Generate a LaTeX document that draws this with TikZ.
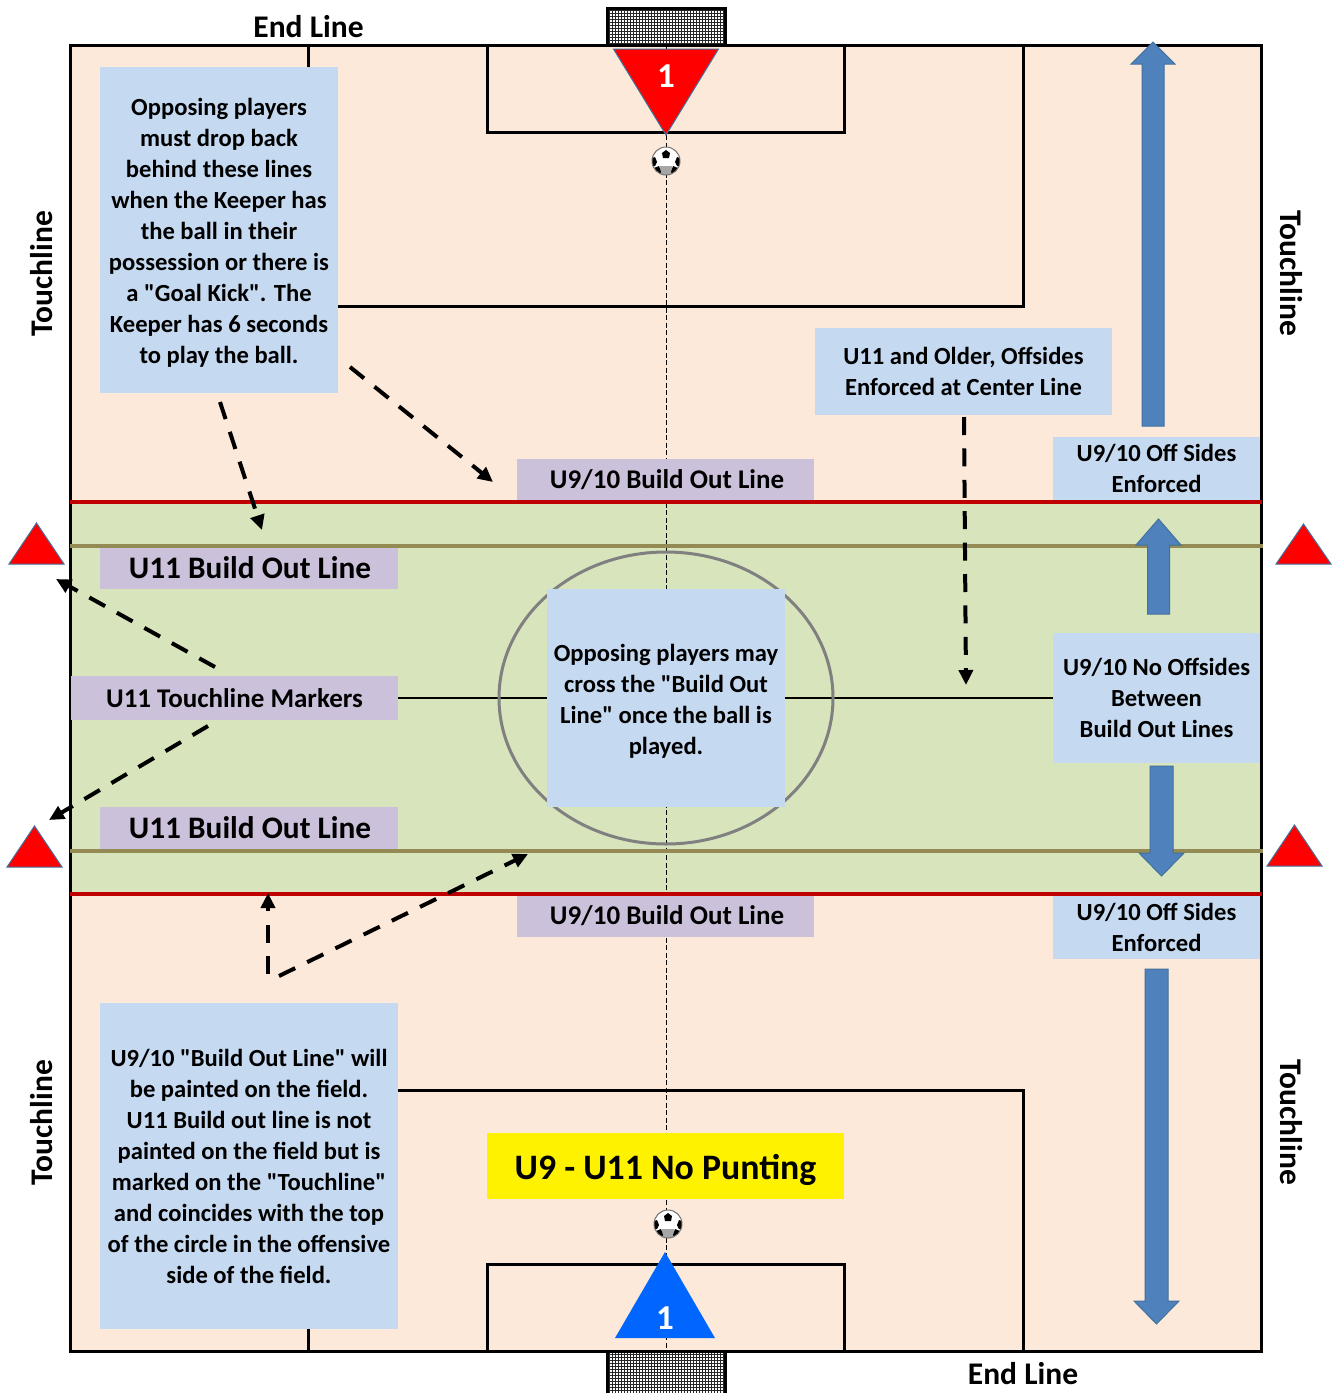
\documentclass[tikz,border=0pt]{standalone}
\usepackage{fontspec}
\newfontfamily\notefont{Carlito}
\usetikzlibrary{arrows.meta}
\definecolor{peach}{HTML}{FDE9D9}
\definecolor{band}{HTML}{D8E4BC}
\definecolor{bluebox}{HTML}{C5D9F1}
\definecolor{lilac}{HTML}{CCC1DA}
\definecolor{olive}{HTML}{948A54}
\definecolor{darkred}{HTML}{C00000}
\definecolor{arrowblue}{HTML}{4F81BD}
\definecolor{arrowedge}{HTML}{41719C}
\definecolor{keeper}{HTML}{0066FF}
\tikzset{
  x=1pt,y=-1pt,
  base/.style={inner sep=0pt,outer sep=0pt,align=center,font=\notefont\bfseries\fontsize{24.6}{31}\selectfont,text=black},
  bluenote/.style={base,fill=bluebox},
  lilacnote/.style={base,fill=lilac,font=\notefont\bfseries\fontsize{27}{31}\selectfont},
  biglabel/.style={base,fill=lilac,font=\notefont\bfseries\fontsize{31.3}{36}\selectfont},
  sidelabel/.style={base,font=\notefont\bfseries\fontsize{31.5}{36}\selectfont},
  keeperlabel/.style={base,text=white,font=\notefont\bfseries\fontsize{35}{36}\selectfont},
  fieldline/.style={draw=black,line width=3pt},
  callout/.style={draw=black,line width=4pt,dash pattern=on 18pt off 13.4pt,-{Triangle[length=15pt,width=14pt]}},
  blockarrow/.style={fill=arrowblue,draw=arrowedge,line width=1pt,line join=miter},
  marker/.style={fill=red,draw=arrowedge,line width=1pt},
}
\newcommand{\soccerball}[2]{%
  \begin{scope}[shift={(#1,#2)}]
    \fill[white] (0,0) circle (14);
    \begin{scope}
      \clip (0,0) circle (14);
      \fill[black!35] (-6,5) -- (6,5) -- (7,14) -- (-7,14) -- cycle;
      \fill[black] (-4,-8) -- (0,-11) -- (4,-8) -- (3,-3) -- (-3,-3) -- cycle;
      \fill[black] (-14,-3) -- (-11,-4) -- (-9,1) -- (-11,5) -- (-14,5) -- cycle;
      \fill[black] (14,-3) -- (11,-4) -- (9,1) -- (11,5) -- (14,5) -- cycle;
      \fill[black] (-12,7) -- (-7,5) -- (-5,11) -- (-7,14) -- (-12,13) -- cycle;
      \fill[black] (12,7) -- (7,5) -- (5,11) -- (7,14) -- (12,13) -- cycle;
    \end{scope}
    \draw[black!55,line width=1pt] (0,0) circle (14);
  \end{scope}}
\newcommand{\goalnet}[4]{% top, bottom, first y, second y
  \fill[white] (606,#1) rectangle (726,#2);
  \foreach \gx in {609,612,...,725} \draw[black!85,line width=0.8pt] (\gx,#1) -- (\gx,#2);
  \foreach \gy in {#3,#4,...,#2} \draw[black!85,line width=0.8pt] (606,\gy) -- (726,\gy);}
\begin{document}
\begin{tikzpicture}
\useasboundingbox (0,0) rectangle (1333,1393);
% field
\fill[peach] (70.5,45) rectangle (1261.5,1351);
\fill[band] (70.5,501) rectangle (1261.5,893);
% goals
\goalnet{8}{45}{10}{13}
\draw[black,line width=3pt] (607,45) -- (607,8) -- (725,8) -- (725,45);
\goalnet{1351}{1393}{1354}{1357}
\draw[black,line width=3pt] (607,1351) -- (607,1393);
\draw[black,line width=3pt] (725,1351) -- (725,1393);
% field markings
\draw[fieldline] (70.5,45) rectangle (1261.5,1351.5);
\draw[fieldline] (308.5,45) -- (308.5,306) -- (1023.5,306) -- (1023.5,45);
\draw[fieldline] (487,45) -- (487,132) -- (844.5,132) -- (844.5,45);
\draw[fieldline] (308.5,1351) -- (308.5,1090.5) -- (1023.5,1090.5) -- (1023.5,1351);
\draw[fieldline] (487,1351) -- (487,1264.5) -- (844.5,1264.5) -- (844.5,1351);
\draw[draw=black,line width=2.5pt] (70,698) -- (1261,698);
\draw[black,line width=1pt,dash pattern=on 5pt off 2.5pt] (666.5,45) -- (666.5,1351);
\draw[draw=black!50,line width=3pt] (666,698) ellipse [x radius=167,y radius=146];
% notes
\node[bluenote,minimum width=238pt,minimum height=326pt] (keepernote) at (219,230)
  {\rule{0pt}{22pt}Opposing players\\must drop back\\behind these lines\\when the Keeper has\\the ball in their\\possession or there is\\a "Goal Kick".  The\\Keeper has 6 seconds\\to play the ball.};
\node[lilacnote,minimum width=297pt,minimum height=41pt] (buildtop) at (665.5,479.5) {\hspace*{3pt}U9/10 Build Out Line};
\node[lilacnote,minimum width=297pt,minimum height=42pt] (buildbot) at (665.5,916) {\hspace*{3pt}U9/10 Build Out Line};
\node[bluenote,minimum width=297pt,minimum height=87pt] (oldernote) at (963.5,371.5) {U11 and Older, Offsides\\Enforced at Center Line};
\node[bluenote,minimum width=207pt,minimum height=63pt] (offtop) at (1156.5,468.5) {U9/10 Off Sides\\Enforced};
\node[bluenote,minimum width=207pt,minimum height=64pt] (offbot) at (1156.5,927) {U9/10 Off Sides\\Enforced};
\node[biglabel,minimum width=298pt,minimum height=42pt] (u11top) at (249,568) {\hspace*{2pt}U11 Build Out Line};
\node[biglabel,minimum width=298pt,minimum height=42pt] (u11bot) at (249,828) {\hspace*{2pt}U11 Build Out Line};
\node[lilacnote,minimum width=327pt,minimum height=44pt] (touchmark) at (234.5,698) {U11 Touchline Markers};
\node[bluenote,minimum width=238pt,minimum height=218pt] (centernote) at (666,698) {\rule{0pt}{24pt}Opposing players may\\cross the "Build Out\\Line" once the ball is\\played.};
\node[bluenote,minimum width=207pt,minimum height=130pt] (noffnote) at (1156.5,698) {U9/10 No Offsides\\Between\\Build Out Lines};
\node[bluenote,minimum width=298pt,minimum height=326pt] (paintnote) at (249,1166) {U9/10 "Build Out Line" will\\be painted on the field.\\U11 Build out line is not\\painted on the field but is\\marked on the "Touchline"\\and coincides with the top\\of the circle in the offensive\\side of the field.};
\node[base,fill=yellow,minimum width=357pt,minimum height=66pt,font=\notefont\bfseries\fontsize{35.8}{40}\selectfont] (nopunt) at (665.5,1166) {\rule{0pt}{34pt}U9 - U11 No Punting};
% build-out lines
\draw[darkred,line width=4pt] (70,501.5) -- (1262,501.5);
\draw[darkred,line width=4pt] (70,893.5) -- (1262,893.5);
\draw[olive,line width=4pt] (70,546) -- (1263,546);
\draw[olive,line width=4pt] (70,851) -- (1263,851);
% keepers
\draw[fill=red,draw=arrowedge,line width=1pt] (613.5,49) -- (718.5,49) -- (666,135) -- cycle;
\node[keeperlabel] (keepertop) at (666,76) {1};
\fill[keeper] (615,1338) -- (715,1338) -- (665,1252) -- cycle;
\node[keeperlabel] (keeperbot) at (665,1318) {1};
\soccerball{666}{161}
\soccerball{668}{1224}
% touchline markers
\path[marker] (9,564) -- (64,564) -- (36.5,523) -- cycle;
\path[marker] (1276,564) -- (1331,564) -- (1303.5,524) -- cycle;
\path[marker] (7,867) -- (62,867) -- (34.5,826) -- cycle;
\path[marker] (1267,866) -- (1322,866) -- (1294.5,825) -- cycle;
% block arrows
\path[blockarrow] (1142,426) -- (1142,64) -- (1131,64) -- (1153,42) -- (1175,64) -- (1164,64) -- (1164,426) -- cycle;
\path[blockarrow] (1147.5,614) -- (1147.5,545) -- (1136,545) -- (1158.5,519) -- (1181,545) -- (1169.5,545) -- (1169.5,614) -- cycle;
\path[blockarrow] (1150,766) -- (1150,853) -- (1139,853) -- (1161.5,876) -- (1184,853) -- (1173,853) -- (1173,766) -- cycle;
\path[blockarrow] (1145,969) -- (1145,1301) -- (1134,1301) -- (1156.5,1324) -- (1179,1301) -- (1168,1301) -- (1168,969) -- cycle;
% callouts
\coordinate (c1s) at (220,402); \coordinate (c1e) at (262,530);
\coordinate (c2s) at (350,367); \coordinate (c2e) at (493,482);
\coordinate (c3s) at (964,417); \coordinate (c3e) at (966,685);
\coordinate (c4s) at (215,667); \coordinate (c4e) at (56,579);
\coordinate (c5s) at (208,726); \coordinate (c5e) at (49,820);
\coordinate (c6s) at (268,974); \coordinate (c6e) at (268,893);
\coordinate (c7s) at (279,976); \coordinate (c7e) at (528,854);
\draw[callout] (c1s) -- (c1e);
\draw[callout] (c2s) -- (c2e);
\draw[callout] (c3s) -- (c3e);
\draw[callout] (c4s) -- (c4e);
\draw[callout] (c5s) -- (c5e);
\draw[callout] (c6s) -- (c6e);
\draw[callout] (c7s) -- (c7e);
% outer labels
\node[sidelabel] (endtop) at (308.5,27) {End Line};
\node[sidelabel] (endbot) at (1023,1374) {End Line};
\node[sidelabel,rotate=90] (tl1) at (42,273.5) {Touchline};
\node[sidelabel,rotate=-90] (tr1) at (1291,273.5) {Touchline};
\node[sidelabel,rotate=90] (tl2) at (42,1122.5) {Touchline};
\node[sidelabel,rotate=-90] (tr2) at (1291,1122.5) {Touchline};
\end{tikzpicture}
\end{document}
